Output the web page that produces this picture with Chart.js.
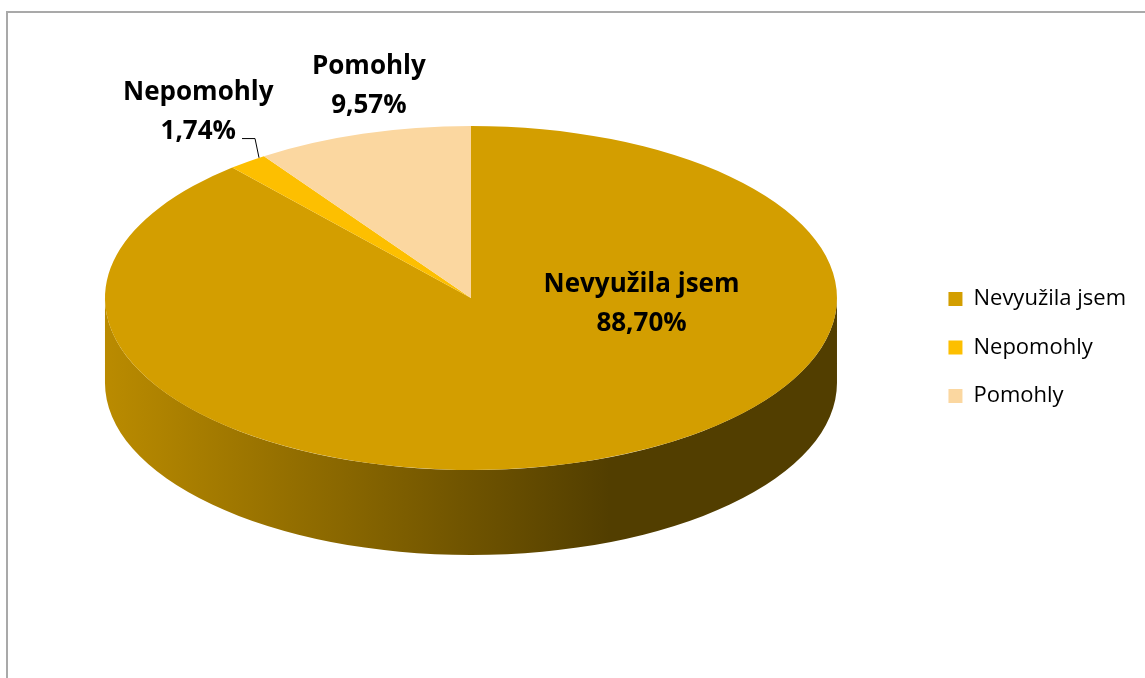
<!DOCTYPE html>
<html>
<head>
<meta charset="utf-8">
<script src="https://cdn.jsdelivr.net/npm/chart.js@4.4.1/dist/chart.umd.min.js"></script>
<style>
  html, body { margin: 0; padding: 0; background: #fff; }
  #wrap { position: relative; width: 1145px; height: 678px; overflow: hidden; }
  #frame { position: absolute; left: 6px; top: 11px; right: -4px; bottom: -4px;
           border-left: 2px solid #a9a9a9; border-top: 2px solid #a9a9a9; }
  canvas { position: absolute; left: 0; top: 0; }
</style>
</head>
<body>
<div id="wrap">
  <div id="frame"></div>
  <canvas id="pie" width="1145" height="678"></canvas>
</div>
<script>
// Answers and their shares (%)
const categories = ['Nevyužila jsem', 'Nepomohly', 'Pomohly'];
const shares = [88.70, 1.74, 9.57];
const sliceColors = ['#d39e00', '#fdbf00', '#fbd7a0'];

// Look of the tilted pie
const PIE_RX = 366;
const PIE_RY = 172;
const PIE_DEPTH = 85;
const PIE_RAISE = 7;

// Where each value label sits, in units of the top ellipse radii
const labelSpots = [[0.466, 0.035], [-0.745, -1.081], [-0.279, -1.233]];
const leaderFor = [false, true, false];
const LEADER_AT = 0.85; // how far along the slice rim the leader ends

const FONT = '"Open Sans", Lato, sans-serif';

function shade(hex, k) {
    const n = parseInt(hex.slice(1), 16);
    const r = Math.round(((n >> 16) & 255) * k);
    const g = Math.round(((n >> 8) & 255) * k);
    const b = Math.round((n & 255) * k);
    return `rgb(${r}, ${g}, ${b})`;
}

function pct(v) {
    return v.toFixed(2).replace('.', ',') + '%';
}

// Squashes the pie into an ellipse and gives it a side wall
const tiltPlugin = {
    id: 'tilt',
    beforeDatasetsDraw(chart) {
        const ctx = chart.ctx;
        const arcs = chart.getDatasetMeta(0).data;
        const { x: cx, y: cy, outerRadius: r } = arcs[0];
        const top = cy - PIE_DEPTH / 2 - PIE_RAISE;

        // only the front half of the rim (0..PI) can be seen
        arcs.forEach((arc, i) => {
            const a0 = Math.max(arc.startAngle, 0);
            const a1 = Math.min(arc.endAngle, Math.PI);
            if (a1 <= a0) return;
            const grad = ctx.createLinearGradient(cx - PIE_RX, 0, cx + PIE_RX * 0.38, 0);
            grad.addColorStop(0, shade(sliceColors[i], 0.88));
            grad.addColorStop(1, shade(sliceColors[i], 0.39));
            ctx.beginPath();
            ctx.ellipse(cx, top, PIE_RX, PIE_RY, 0, a0, a1);
            ctx.ellipse(cx, top + PIE_DEPTH, PIE_RX, PIE_RY, 0, a1, a0, true);
            ctx.closePath();
            ctx.fillStyle = grad;
            ctx.fill();
        });

        ctx.save();
        ctx.translate(cx, top);
        ctx.scale(PIE_RX / r, PIE_RY / r);
        ctx.translate(-cx, -cy);
    },
    afterDatasetsDraw(chart) {
        const ctx = chart.ctx;
        ctx.restore();

        const arcs = chart.getDatasetMeta(0).data;
        const { x: cx, y: cy } = arcs[0];
        const top = cy - PIE_DEPTH / 2 - PIE_RAISE;
        const lineGap = 39;

        ctx.save();
        ctx.font = `bold 26px ${FONT}`;
        ctx.fillStyle = '#000';
        ctx.textAlign = 'center';
        ctx.textBaseline = 'middle';
        arcs.forEach((arc, i) => {
            const px = cx + labelSpots[i][0] * PIE_RX;
            const py = top + labelSpots[i][1] * PIE_RY;
            const valueText = pct(shares[i]);
            ctx.fillText(categories[i], px, py - lineGap / 2);
            ctx.fillText(valueText, px, py + lineGap / 2);

            if (leaderFor[i]) {
                const a = arc.startAngle + (arc.endAngle - arc.startAngle) * LEADER_AT;
                const ex = cx + Math.cos(a) * PIE_RX;
                const ey = top + Math.sin(a) * PIE_RY;
                const sx = px + ctx.measureText(valueText).width / 2 + 6;
                const sy = py + lineGap / 2 + 7;
                ctx.beginPath();
                ctx.moveTo(sx, sy);
                ctx.lineTo(Math.min(sx + 13, ex - 3), sy);
                ctx.lineTo(ex, ey);
                ctx.strokeStyle = '#000';
                ctx.lineWidth = 1;
                ctx.stroke();
            }
        });
        ctx.restore();
    }
};

new Chart(document.getElementById('pie'), {
    type: 'pie',
    data: {
        labels: categories,
        datasets: [{
            data: shares,
            backgroundColor: sliceColors,
            borderWidth: 0
        }]
    },
    options: {
        responsive: false,
        animation: false,
        layout: { padding: { left: 20, right: 9, top: 17, bottom: 0 } },
        plugins: {
            legend: {
                position: 'right',
                align: 'center',
                labels: {
                    boxWidth: 14,
                    boxHeight: 14,
                    padding: 26.5,
                    color: '#000',
                    font: { family: FONT, size: 22 }
                }
            },
            tooltip: { enabled: false }
        }
    },
    plugins: [tiltPlugin]
});
</script>
</body>
</html>
